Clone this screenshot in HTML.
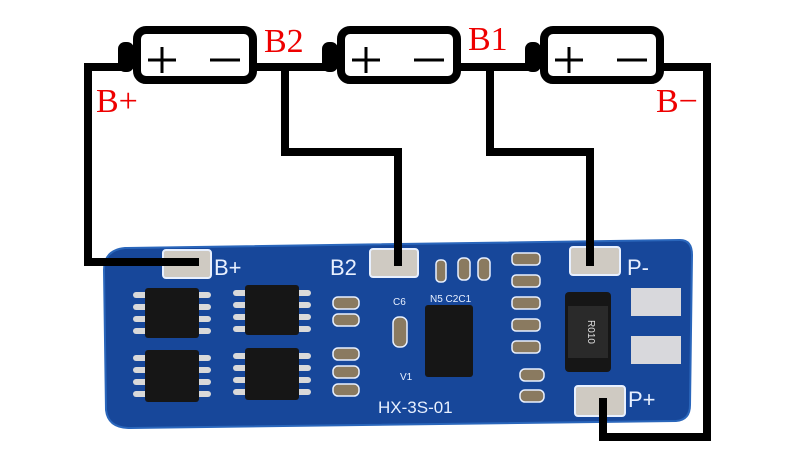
<!DOCTYPE html>
<html><head><meta charset="utf-8"><style>
html,body{margin:0;padding:0;background:#fff;width:800px;height:450px;overflow:hidden}
</style></head><body>
<svg width="800" height="450" viewBox="0 0 800 450" xmlns="http://www.w3.org/2000/svg">
<!-- PCB -->
<path d="M125 248 L680 240 Q692 240 692 255 L690 405 Q690 420 676 421 L130 428 Q108 428 106 410 L104 270 Q104 250 125 248 Z" fill="#17479a"/>
<path d="M125 248 L680 240 Q692 240 692 255 L690 405 Q690 420 676 421 L130 428 Q108 428 106 410 L104 270 Q104 250 125 248 Z" fill="none" stroke="#2a66bb" stroke-width="2"/>
<!-- pads -->
<rect x="163" y="250" width="48" height="28" rx="3" fill="#cfcac2" stroke="#e8f0ff" stroke-width="2"/>
<rect x="370" y="249" width="48" height="28" rx="3" fill="#cfcac2" stroke="#e8f0ff" stroke-width="2"/>
<rect x="570" y="247" width="50" height="28" rx="3" fill="#cfcac2" stroke="#e8f0ff" stroke-width="2"/>
<rect x="575" y="386" width="50" height="30" rx="3" fill="#cfcac2" stroke="#e8f0ff" stroke-width="2"/>
<rect x="631" y="288" width="50" height="28" fill="#d8d8dc"/>
<rect x="631" y="336" width="50" height="28" fill="#d8d8dc"/>
<!-- chips -->
<g fill="#d9d9d9">
<rect x="133" y="292" width="78" height="6" rx="3"/><rect x="133" y="304" width="78" height="6" rx="3"/><rect x="133" y="316" width="78" height="6" rx="3"/><rect x="133" y="328" width="78" height="6" rx="3"/>
<rect x="233" y="290" width="78" height="6" rx="3"/><rect x="233" y="302" width="78" height="6" rx="3"/><rect x="233" y="314" width="78" height="6" rx="3"/><rect x="233" y="326" width="78" height="6" rx="3"/>
<rect x="133" y="355" width="78" height="6" rx="3"/><rect x="133" y="367" width="78" height="6" rx="3"/><rect x="133" y="379" width="78" height="6" rx="3"/><rect x="133" y="391" width="78" height="6" rx="3"/>
<rect x="233" y="353" width="78" height="6" rx="3"/><rect x="233" y="365" width="78" height="6" rx="3"/><rect x="233" y="377" width="78" height="6" rx="3"/><rect x="233" y="389" width="78" height="6" rx="3"/>
</g>
<g fill="#161616">
<rect x="145" y="288" width="54" height="50" rx="3"/>
<rect x="245" y="285" width="54" height="50" rx="3"/>
<rect x="145" y="350" width="54" height="52" rx="3"/>
<rect x="245" y="348" width="54" height="52" rx="3"/>
<rect x="425" y="305" width="48" height="72" rx="3"/>
<rect x="565" y="292" width="46" height="80" rx="4"/>
</g>
<rect x="568" y="306" width="40" height="52" fill="#2a2a2a"/>
<text x="588" y="332" fill="#ddd" font-family="Liberation Sans, sans-serif" font-size="10" text-anchor="middle" transform="rotate(90 588 332)">R010</text>
<!-- small components -->
<g fill="#8a7a60" stroke="#e8f0ff" stroke-width="1.5">
<rect x="333" y="297" width="26" height="12" rx="5"/><rect x="333" y="314" width="26" height="12" rx="5"/>
<rect x="333" y="348" width="26" height="12" rx="5"/><rect x="333" y="366" width="26" height="12" rx="5"/><rect x="333" y="384" width="26" height="12" rx="5"/>
<rect x="393" y="317" width="14" height="30" rx="6"/>
<rect x="436" y="260" width="10" height="22" rx="4"/><rect x="458" y="258" width="12" height="22" rx="5"/><rect x="478" y="258" width="12" height="22" rx="5"/>
<rect x="512" y="253" width="28" height="12" rx="4"/><rect x="512" y="275" width="28" height="12" rx="4"/><rect x="512" y="297" width="28" height="12" rx="4"/><rect x="512" y="319" width="28" height="12" rx="4"/><rect x="512" y="341" width="28" height="12" rx="4"/>
<rect x="520" y="369" width="24" height="12" rx="5"/><rect x="520" y="390" width="24" height="12" rx="5"/>
</g>
<g fill="#e8f0ff" font-family="Liberation Sans, sans-serif">
<text x="214" y="275" font-size="22">B+</text>
<text x="330" y="275" font-size="22">B2</text>
<text x="627" y="275" font-size="22">P-</text>
<text x="628" y="407" font-size="22">P+</text>
<text x="378" y="413" font-size="17">HX-3S-01</text>
<text x="393" y="305" font-size="10">C6</text>
<text x="400" y="380" font-size="10">V1</text>
<text x="430" y="302" font-size="10">N5 C2C1</text>
</g>
<!-- wires -->
<g fill="none" stroke="#000" stroke-width="8" stroke-linecap="square">
<polyline points="118,67 88,67 88,262 195,262"/>
<polyline points="252,67 322,67"/>
<polyline points="285,67 285,152 398,152 398,262"/>
<polyline points="456,67 528,67"/>
<polyline points="490,67 490,152 590,152 590,262"/>
<polyline points="658,67 707,67 707,437 603,437 603,402"/>
</g>
<!-- batteries -->
<g>
<rect x="118" y="42" width="16" height="30" rx="7" fill="#000"/>
<rect x="137" y="30" width="116" height="50" rx="9" fill="#fff" stroke="#000" stroke-width="8"/>
<rect x="322" y="42" width="16" height="30" rx="7" fill="#000"/>
<rect x="341" y="30" width="116" height="50" rx="9" fill="#fff" stroke="#000" stroke-width="8"/>
<rect x="525" y="42" width="16" height="30" rx="7" fill="#000"/>
<rect x="544" y="30" width="116" height="50" rx="9" fill="#fff" stroke="#000" stroke-width="8"/>
</g>
<g stroke="#000" stroke-width="3">
<line x1="148" y1="60" x2="176" y2="60"/><line x1="162" y1="47" x2="162" y2="73"/><line x1="210" y1="60" x2="240" y2="60"/>
<line x1="352" y1="60" x2="380" y2="60"/><line x1="366" y1="47" x2="366" y2="73"/><line x1="414" y1="60" x2="444" y2="60"/>
<line x1="555" y1="60" x2="583" y2="60"/><line x1="569" y1="47" x2="569" y2="73"/><line x1="617" y1="60" x2="647" y2="60"/>
</g>
<g fill="#e00" font-family="Liberation Serif, serif" font-size="34">
<text x="264" y="52">B2</text>
<text x="468" y="50">B1</text>
<text x="96" y="112">B+</text>
<text x="656" y="112">B−</text>
</g>
</svg>
</body></html>
